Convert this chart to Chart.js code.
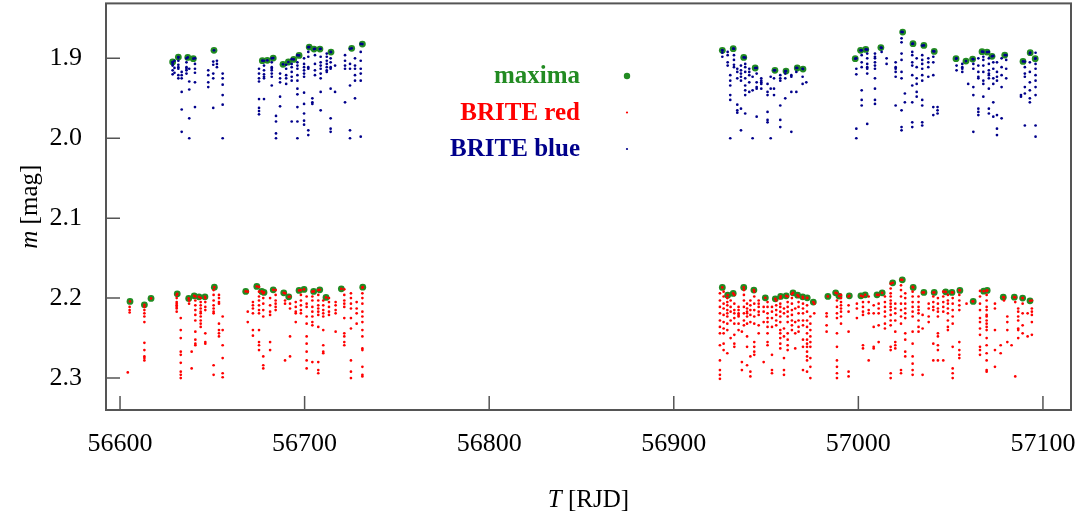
<!DOCTYPE html>
<html>
<head>
<meta charset="utf-8">
<script src="https://cdn.jsdelivr.net/npm/chart.js@4/dist/chart.umd.min.js"></script>
<style>
  html, body { margin: 0; padding: 0; background: #fff; }
  #wrap { position: relative; width: 1088px; height: 523px; }
</style>
</head>
<body>
<div id="wrap"><canvas id="c"></canvas></div>
<script>
// ---- tick labels ----
const xTicks = [56600, 56700, 56800, 56900, 57000, 57100];
const yTicks = [1.9, 2.0, 2.1, 2.2, 2.3];

// ---- BRITE blue light curve: columns [T, m1, m2, ...] ----
const blueSeason1 = [
  [56628.5, 1.905, 1.907, 1.909, 1.915, 1.920],
  [56629.5, 1.903, 1.912, 1.918],
  [56631.6, 1.899, 1.903, 1.908, 1.911, 1.913, 1.921, 1.925],
  [56633.4, 1.917, 1.921, 1.925, 1.942, 1.964, 1.992],
  [56636.0, 1.900, 1.905, 1.911, 1.913, 1.915, 1.919],
  [56637.5, 1.913, 1.929, 1.939, 1.975, 2.000],
  [56640.6, 1.900, 1.907, 1.913, 1.918, 1.930, 1.961],
  [56647.8, 1.915, 1.921, 1.930, 1.936],
  [56650.5, 1.904, 1.908, 1.919, 1.925, 1.962],
  [56652.5, 1.903, 1.907, 1.911],
  [56655.6, 1.919, 1.925, 1.933, 1.946, 1.958, 2.000],
  [56675.3, 1.913, 1.919, 1.925, 1.929, 1.951, 1.962, 1.966, 1.970],
  [56678.0, 1.903, 1.909, 1.915, 1.920, 1.923, 1.925, 1.951],
  [56682.2, 1.900, 1.905, 1.911, 1.913, 1.915, 1.919, 1.923, 1.934],
  [56684.5, 1.972, 1.979, 1.994, 2.000],
  [56686.7, 1.919, 1.925, 1.930, 1.948, 1.960],
  [56690.0, 1.908, 1.913, 1.921, 1.925, 1.932],
  [56693.0, 1.901, 1.907, 1.911, 1.917, 1.923, 1.928, 1.979],
  [56696.1, 1.896, 1.905, 1.909, 1.913, 1.921, 1.928, 1.938, 1.945, 1.961, 1.979, 2.000],
  [56699.7, 1.900, 1.907, 1.911, 1.915, 1.919, 1.923, 1.943, 1.957, 1.969, 1.978, 1.983],
  [56702.0, 1.886, 1.892, 1.898, 1.911, 1.913, 1.990, 1.996],
  [56704.2, 1.950, 1.955, 1.957],
  [56705.6, 1.888, 1.896, 1.907, 1.915, 1.921],
  [56708.7, 1.888, 1.898, 1.905, 1.909, 1.913, 1.919, 1.925, 1.942, 1.965],
  [56712.0, 1.894, 1.898, 1.903, 1.907, 1.911, 1.915, 1.917],
  [56714.1, 1.892, 1.900, 1.905, 1.911, 1.913, 1.938, 1.975, 1.988, 1.992],
  [56716.5, 1.909, 1.942],
  [56721.9, 1.896, 1.903, 1.909, 1.913, 1.955],
  [56724.6, 1.888, 1.907, 1.913, 1.934, 1.990, 2.000],
  [56727.3, 1.900, 1.909, 1.913, 1.921, 1.928, 1.950],
  [56730.4, 1.882, 1.892, 1.903, 1.913, 1.919, 1.928, 1.998]
];
const blueSeason2 = [
  [56926.3, 1.890, 1.893, 1.898],
  [56929.2, 1.892, 1.896, 1.905, 1.909],
  [56930.6, 1.921, 1.928, 1.934, 1.946, 1.952, 2.000],
  [56932.6, 1.888, 1.896, 1.902, 1.908, 1.911],
  [56934.4, 1.913, 1.917, 1.925, 1.958, 1.965, 1.968],
  [56936.4, 1.909, 1.915, 1.919, 1.923, 1.928, 1.963, 1.990],
  [56938.7, 1.899, 1.907, 1.911, 1.917, 1.925, 1.934, 1.940, 1.946, 1.969],
  [56940.9, 1.913, 1.917, 1.921, 1.930, 1.942],
  [56942.7, 1.923, 1.940, 2.000],
  [56944.9, 1.912, 1.919, 1.930, 1.936, 1.938, 1.973],
  [56947.4, 1.925, 1.928, 1.930, 1.932, 1.938],
  [56950.8, 1.932, 1.942, 1.946, 1.967, 1.977, 1.980],
  [56952.5, 1.923, 1.938, 2.000],
  [56954.3, 1.915, 1.925, 1.938, 1.946],
  [56957.7, 1.921, 1.925, 1.928, 1.959, 1.977, 1.986],
  [56960.4, 1.916, 1.919, 1.925, 1.950],
  [56963.7, 1.921, 1.923, 1.942, 1.992],
  [56966.4, 1.912, 1.917, 1.942],
  [56969.8, 1.913, 1.923, 1.932],
  [56971.8, 1.930],
  [56998.9, 1.900, 1.913, 1.920, 1.988, 2.000],
  [57001.8, 1.890, 1.896, 1.905, 1.911, 1.940, 1.952, 1.959],
  [57004.8, 1.889, 1.894, 1.900, 1.907, 1.911, 1.913, 1.919, 1.982],
  [57009.0, 1.894, 1.898, 1.900, 1.905, 1.909, 1.913, 1.925, 1.938, 1.952, 1.957],
  [57012.6, 1.887, 1.892],
  [57015.3, 1.900, 1.907],
  [57020.2, 1.905, 1.911, 1.913, 1.917, 1.923, 1.959],
  [57023.4, 1.867, 1.875, 1.880, 1.894, 1.902, 1.917, 1.925, 1.965, 1.986, 1.990],
  [57025.2, 1.944, 1.955],
  [57029.2, 1.882, 1.892, 1.896, 1.905, 1.909, 1.921, 1.934, 1.955, 1.980, 1.986],
  [57031.6, 1.900, 1.911, 1.925, 1.932, 1.942, 1.948],
  [57034.6, 1.884, 1.896, 1.902, 1.907, 1.913, 1.921, 1.928, 1.952, 1.959, 1.980, 1.984],
  [57037.9, 1.900, 1.905, 1.911, 1.923],
  [57040.6, 1.891, 1.898, 1.905, 1.921, 1.961, 1.971],
  [57042.9, 1.961, 1.965, 1.969],
  [57053.2, 1.900, 1.909, 1.915],
  [57056.3, 1.907, 1.911, 1.913, 1.917],
  [57059.5, 1.932],
  [57062.3, 1.901, 1.907, 1.913, 1.936, 1.946, 1.992],
  [57065.0, 1.900, 1.909, 1.917, 1.923, 1.925, 1.963, 1.967, 1.971],
  [57067.7, 1.892, 1.898, 1.902, 1.909, 1.917, 1.928, 1.932, 1.948],
  [57070.7, 1.892, 1.900, 1.907, 1.915, 1.919, 1.921, 1.925, 1.938, 1.963, 1.969],
  [57073.1, 1.897, 1.905, 1.913, 1.925, 1.932, 1.955, 1.973],
  [57075.1, 1.905, 1.917, 1.923, 1.928, 1.971, 1.988, 1.996],
  [57077.6, 1.900, 1.911, 1.921, 1.936, 1.975],
  [57080.1, 1.896, 1.902, 1.913, 1.925],
  [57088.1, 1.946, 1.948],
  [57090.2, 1.904, 1.911, 1.919, 1.923, 1.936, 1.944, 1.984],
  [57092.9, 1.894, 1.905, 1.917, 1.930, 1.940, 1.950, 1.955],
  [57096.0, 1.893, 1.900, 1.907, 1.913, 1.921, 1.928, 1.936, 1.946, 1.984, 1.998]
];

// ---- BRITE red light curve: columns [T, m1, m2, ...] ----
const redSeason1 = [
  [56604.2, 2.293],
  [56605.2, 2.211, 2.215, 2.218],
  [56613.2, 2.211, 2.215, 2.219, 2.223, 2.230, 2.256, 2.265, 2.273, 2.275, 2.278],
  [56630.7, 2.196, 2.200, 2.205, 2.207, 2.209, 2.211, 2.213, 2.217],
  [56632.9, 2.225, 2.240, 2.250, 2.267, 2.271, 2.281, 2.292, 2.296, 2.300],
  [56637.4, 2.203, 2.207],
  [56638.8, 2.267, 2.288],
  [56640.8, 2.198, 2.203, 2.209, 2.215, 2.221, 2.228, 2.242, 2.252, 2.257, 2.259],
  [56643.7, 2.200, 2.205, 2.209, 2.213, 2.217, 2.219, 2.223, 2.228, 2.232, 2.236],
  [56646.2, 2.200, 2.205, 2.211, 2.215, 2.244, 2.255, 2.257],
  [56650.7, 2.190, 2.196, 2.203, 2.209, 2.213, 2.217, 2.219, 2.284, 2.296],
  [56653.6, 2.196, 2.200, 2.205, 2.207, 2.232, 2.240, 2.244, 2.248],
  [56655.6, 2.223, 2.240, 2.259, 2.275, 2.294, 2.299],
  [56669.2, 2.192, 2.217, 2.230],
  [56672.0, 2.205, 2.209, 2.213, 2.219, 2.240, 2.247],
  [56675.3, 2.186, 2.192, 2.198, 2.203, 2.209, 2.215, 2.219, 2.240, 2.255, 2.259, 2.265],
  [56677.6, 2.194, 2.200, 2.207, 2.215, 2.223, 2.273, 2.284, 2.288],
  [56681.3, 2.200, 2.209, 2.217, 2.221, 2.255, 2.265],
  [56684.3, 2.190, 2.196, 2.203, 2.207, 2.211, 2.215],
  [56689.4, 2.194, 2.203, 2.207, 2.278],
  [56692.1, 2.198, 2.207, 2.213, 2.248, 2.273],
  [56695.2, 2.205, 2.211, 2.217, 2.219, 2.230],
  [56698.0, 2.190, 2.196, 2.203, 2.209, 2.215, 2.219],
  [56701.1, 2.198, 2.207, 2.211, 2.223, 2.232, 2.248, 2.257, 2.267, 2.278, 2.288],
  [56704.2, 2.192, 2.198, 2.203, 2.211, 2.217, 2.223, 2.230, 2.234, 2.280],
  [56707.4, 2.190, 2.196, 2.203, 2.209, 2.213, 2.217, 2.221, 2.236, 2.280, 2.290, 2.294],
  [56710.1, 2.203, 2.209, 2.215, 2.219, 2.223, 2.240, 2.259, 2.267, 2.269],
  [56713.2, 2.200, 2.205, 2.211, 2.217, 2.221],
  [56716.8, 2.205, 2.209, 2.215, 2.219, 2.242],
  [56721.5, 2.189, 2.196, 2.203, 2.207, 2.211, 2.225, 2.244, 2.248, 2.255, 2.259],
  [56725.1, 2.194, 2.200, 2.207, 2.213, 2.225, 2.238, 2.278, 2.292, 2.300],
  [56728.2, 2.205, 2.213, 2.219, 2.232],
  [56731.3, 2.187, 2.194, 2.200, 2.207, 2.217, 2.223, 2.230, 2.240, 2.248, 2.263, 2.265, 2.286, 2.296, 2.298]
];
const redSeason2 = [
  [56925.0, 2.194, 2.203, 2.211, 2.219, 2.228, 2.236, 2.244, 2.259, 2.278, 2.290, 2.296, 2.301],
  [56927.0, 2.192, 2.198, 2.207, 2.213, 2.221, 2.230, 2.238, 2.244, 2.257, 2.265],
  [56929.0, 2.200, 2.205, 2.209, 2.215, 2.219, 2.223, 2.232, 2.240, 2.269],
  [56930.8, 2.203, 2.211, 2.217, 2.228, 2.250],
  [56932.8, 2.196, 2.207, 2.215, 2.219, 2.225, 2.232, 2.246, 2.257, 2.261],
  [56935.1, 2.211, 2.215, 2.219, 2.221, 2.223, 2.232, 2.240],
  [56936.9, 2.242, 2.280, 2.290],
  [56938.0, 2.190, 2.196, 2.203, 2.211, 2.219, 2.228, 2.234],
  [56939.7, 2.207, 2.213, 2.217, 2.219, 2.223, 2.232, 2.248, 2.261, 2.284],
  [56941.5, 2.203, 2.209, 2.215, 2.221, 2.230, 2.273, 2.292, 2.298],
  [56943.6, 2.192, 2.198, 2.207, 2.215, 2.223, 2.232, 2.255, 2.261, 2.267, 2.271],
  [56946.0, 2.203, 2.207, 2.211, 2.217, 2.221, 2.234, 2.244],
  [56948.7, 2.211, 2.217, 2.230, 2.280],
  [56950.8, 2.205, 2.211, 2.219, 2.225, 2.230, 2.236, 2.244, 2.255, 2.259],
  [56953.2, 2.211, 2.217, 2.225, 2.236, 2.271, 2.290, 2.294],
  [56955.5, 2.203, 2.209, 2.215, 2.221, 2.228, 2.234],
  [56957.7, 2.200, 2.207, 2.211, 2.217, 2.223, 2.230, 2.240, 2.244, 2.250, 2.257, 2.263],
  [56959.7, 2.213, 2.219, 2.238, 2.248, 2.275, 2.290, 2.296],
  [56961.7, 2.198, 2.205, 2.211, 2.217, 2.223, 2.230, 2.244, 2.252, 2.259, 2.265],
  [56964.0, 2.195, 2.200, 2.207, 2.215, 2.221, 2.228, 2.234, 2.240],
  [56965.8, 2.213, 2.230, 2.244, 2.263],
  [56967.6, 2.198, 2.205, 2.211, 2.219, 2.228, 2.236, 2.242],
  [56970.0, 2.200, 2.207, 2.213, 2.219, 2.228, 2.234, 2.252, 2.261, 2.290],
  [56972.2, 2.200, 2.209, 2.217, 2.228, 2.236, 2.244, 2.252, 2.257, 2.261, 2.267, 2.273, 2.278, 2.292],
  [56974.0, 2.223, 2.232, 2.240, 2.248, 2.255, 2.261, 2.275, 2.286, 2.300],
  [56976.1, 2.207, 2.219],
  [56982.8, 2.219, 2.223, 2.234, 2.242],
  [56988.4, 2.194, 2.203, 2.211, 2.219, 2.225, 2.244, 2.261, 2.278, 2.286, 2.294, 2.300],
  [56990.6, 2.196, 2.200, 2.205, 2.209, 2.213, 2.217, 2.223, 2.232],
  [56994.7, 2.198, 2.209, 2.217, 2.242, 2.292, 2.298],
  [56999.2, 2.207, 2.213, 2.225],
  [57002.5, 2.198, 2.205, 2.211, 2.217, 2.221, 2.259, 2.263],
  [57005.6, 2.198, 2.205, 2.215, 2.219, 2.278],
  [57008.3, 2.209, 2.219, 2.236, 2.261, 2.263],
  [57011.0, 2.196, 2.207, 2.213, 2.219, 2.234, 2.255],
  [57014.4, 2.198, 2.205, 2.211, 2.217, 2.223, 2.232, 2.238],
  [57017.5, 2.182, 2.188, 2.194, 2.198, 2.203, 2.207, 2.211, 2.215, 2.221, 2.228, 2.234, 2.261, 2.265, 2.294, 2.300],
  [57020.0, 2.207, 2.213, 2.219, 2.228, 2.242, 2.255, 2.259, 2.263],
  [57023.1, 2.177, 2.184, 2.190, 2.198, 2.207, 2.215, 2.223, 2.232, 2.290, 2.294],
  [57025.4, 2.194, 2.200, 2.207, 2.213, 2.219, 2.225, 2.244, 2.252, 2.267, 2.273],
  [57029.4, 2.186, 2.192, 2.198, 2.205, 2.211, 2.217, 2.223, 2.242, 2.257, 2.273, 2.282, 2.290, 2.296],
  [57032.6, 2.198, 2.205, 2.211, 2.215, 2.219, 2.228, 2.236, 2.242],
  [57034.8, 2.193, 2.221, 2.238, 2.296],
  [57038.1, 2.207, 2.213, 2.223, 2.230],
  [57040.6, 2.193, 2.198, 2.205, 2.211, 2.215, 2.257, 2.278],
  [57043.1, 2.200, 2.207, 2.213, 2.217, 2.223, 2.244, 2.248, 2.259, 2.265, 2.278],
  [57046.0, 2.192, 2.198, 2.205, 2.211, 2.217, 2.278],
  [57048.5, 2.196, 2.203, 2.207, 2.213, 2.219, 2.228, 2.236, 2.240],
  [57051.1, 2.193, 2.200, 2.207, 2.215, 2.223, 2.232, 2.261, 2.288, 2.294, 2.300],
  [57054.7, 2.190, 2.196, 2.203, 2.209, 2.215, 2.255, 2.265, 2.271, 2.275],
  [57058.6, 2.207],
  [57061.9, 2.204],
  [57065.9, 2.191, 2.198, 2.207, 2.215, 2.225, 2.230, 2.238, 2.246, 2.261, 2.265, 2.271],
  [57069.5, 2.191, 2.196, 2.203, 2.211, 2.215, 2.221, 2.223, 2.228, 2.232, 2.236, 2.240, 2.250, 2.259, 2.269, 2.278, 2.290, 2.292],
  [57074.0, 2.207, 2.213, 2.240, 2.265, 2.286],
  [57077.1, 2.259, 2.269],
  [57078.9, 2.199, 2.203],
  [57080.7, 2.223, 2.230, 2.240, 2.255],
  [57083.0, 2.259],
  [57085.0, 2.199, 2.205, 2.298],
  [57086.6, 2.213, 2.217, 2.223, 2.228, 2.238, 2.240, 2.250],
  [57089.0, 2.200, 2.207, 2.219, 2.234, 2.244],
  [57091.7, 2.219, 2.248],
  [57094.0, 2.203, 2.213, 2.217, 2.221, 2.230, 2.246]
];

// ---- maxima: [T, m] ----
const maximaBlue = [
  [56628.5, 1.9046], [56631.6, 1.8984], [56636.7, 1.8988], [56639.7, 1.9004], [56650.9, 1.8900],
  [56677.1, 1.9029], [56679.8, 1.9025], [56683.0, 1.8996], [56688.3, 1.9075], [56691.2, 1.9046],
  [56694.1, 1.9013], [56697.0, 1.8963], [56702.5, 1.8859], [56705.1, 1.8884], [56708.3, 1.8884],
  [56714.3, 1.8921], [56725.5, 1.8875], [56731.3, 1.8821],
  [56926.3, 1.8900], [56932.2, 1.8879], [56937.9, 1.8988], [56944.1, 1.9121], [56954.8, 1.9150],
  [56960.8, 1.9159], [56966.9, 1.9121], [56970.0, 1.9134],
  [56998.3, 1.9004], [57001.2, 1.8900], [57004.0, 1.8888], [57012.2, 1.8865], [57024.0, 1.8671],
  [57029.6, 1.8816], [57035.5, 1.8838], [57041.1, 1.8913], [57052.9, 1.9004], [57058.3, 1.9034],
  [57061.9, 1.9009], [57067.0, 1.8916], [57069.7, 1.8921], [57072.4, 1.8975], [57079.3, 1.8959],
  [57089.2, 1.9038], [57093.1, 1.8929], [57095.8, 1.9004]
];
const maximaRed = [
  [56605.4, 2.2041], [56613.2, 2.2084], [56616.8, 2.2004], [56631.0, 2.1946], [56637.2, 2.2004],
  [56640.2, 2.1971], [56642.8, 2.1984], [56646.0, 2.1984], [56651.1, 2.1863], [56668.1, 2.1916],
  [56674.1, 2.1854], [56676.8, 2.1916], [56678.0, 2.1929], [56683.0, 2.1896], [56688.7, 2.1934],
  [56691.4, 2.1984], [56697.0, 2.1904], [56699.7, 2.1891], [56704.9, 2.1916], [56708.2, 2.1896],
  [56711.6, 2.1991], [56719.9, 2.1884], [56731.5, 2.1863],
  [56926.3, 2.1866], [56929.2, 2.1963], [56932.2, 2.1941], [56937.9, 2.1866], [56943.4, 2.1900],
  [56949.6, 2.1996], [56955.0, 2.2009], [56957.9, 2.1979], [56960.9, 2.1971], [56964.6, 2.1934],
  [56967.1, 2.1963], [56969.8, 2.1984], [56972.3, 2.1996], [56975.6, 2.2050], [56983.5, 2.1979],
  [56987.7, 2.1934], [56989.5, 2.1975], [56995.1, 2.1971], [57001.4, 2.1971], [57003.7, 2.1959],
  [57010.1, 2.1959], [57012.9, 2.1934], [57018.6, 2.1809], [57023.8, 2.1771], [57029.7, 2.1866],
  [57035.5, 2.1929], [57041.1, 2.1929], [57047.3, 2.1921], [57050.7, 2.1929], [57055.0, 2.1904],
  [57062.2, 2.2041], [57067.9, 2.1913], [57069.8, 2.1904], [57078.5, 2.1988], [57084.5, 2.1988],
  [57089.0, 2.2000], [57093.0, 2.2034]
];

// ---- build datasets ----
const fromColumns = cols => cols.flatMap(([t, ...ms]) => ms.map(m => ({ x: t, y: m })));
const fromPairs = pairs => pairs.map(([t, m]) => ({ x: t, y: m }));

const blueData = fromColumns(blueSeason1).concat(fromColumns(blueSeason2), fromPairs(maximaBlue));
const redData = fromColumns(redSeason1).concat(fromColumns(redSeason2), fromPairs(maximaRed));
const maxData = fromPairs(maximaBlue).concat(fromPairs(maximaRed));

const COL_BLUE = '#00008b', COL_RED = '#ff0000', COL_GREEN = '#228b22';
const SERIF = '"Liberation Serif", "DejaVu Serif", serif';

const legendItems = [
  { text: 'maxima', color: COL_GREEN, r: 3.2 },
  { text: 'BRITE red', color: COL_RED, r: 1.1 },
  { text: 'BRITE blue', color: COL_BLUE, r: 1.1 }
];

const decor = {
  id: 'decor',
  afterDraw(chart) {
    const { ctx, chartArea: a, scales: { x, y } } = chart;
    ctx.save();
    // inward tick marks
    ctx.strokeStyle = '#555';
    ctx.lineWidth = 1.5;
    ctx.beginPath();
    yTicks.forEach(v => {
      const p = y.getPixelForValue(v);
      ctx.moveTo(a.left, p); ctx.lineTo(a.left + 14, p);
    });
    xTicks.forEach(v => {
      const p = x.getPixelForValue(v);
      ctx.moveTo(p, a.bottom); ctx.lineTo(p, a.bottom - 14);
    });
    ctx.stroke();
    // frame
    ctx.lineWidth = 2;
    ctx.strokeStyle = '#555';
    ctx.strokeRect(a.left, a.top, a.right - a.left, a.bottom - a.top);

    // axis titles (italic symbol + upright unit)
    ctx.fillStyle = '#000';
    ctx.textBaseline = 'middle';
    ctx.textAlign = 'left';
    const drawTitle = (sym, unit, cx, cy, rot) => {
      ctx.save();
      ctx.translate(cx, cy);
      if (rot) ctx.rotate(-Math.PI / 2);
      ctx.font = 'italic 25px ' + SERIF;
      const w1 = ctx.measureText(sym).width;
      ctx.font = '25px ' + SERIF;
      const w2 = ctx.measureText(unit).width;
      let sx = -(w1 + w2) / 2;
      ctx.font = 'italic 25px ' + SERIF;
      ctx.fillText(sym, sx, 0);
      ctx.font = '25px ' + SERIF;
      ctx.fillText(unit, sx + w1, 0);
      ctx.restore();
    };
    drawTitle('T', ' [RJD]', (a.left + a.right) / 2, 500, false);
    drawTitle('m', ' [mag]', 30, (a.top + a.bottom) / 2, true);

    // legend
    ctx.font = 'bold 25px ' + SERIF;
    ctx.textAlign = 'right';
    legendItems.forEach((it, i) => {
      const cy = 76 + i * 36.5;
      ctx.fillStyle = it.color;
      ctx.fillText(it.text, 580, cy + 1);
      ctx.beginPath();
      ctx.arc(627, cy, it.r, 0, Math.PI * 2);
      ctx.fill();
    });
    ctx.restore();
  }
};

new Chart(document.getElementById('c'), {
  type: 'scatter',
  data: {
    datasets: [
      { label: 'BRITE blue', data: blueData, backgroundColor: COL_BLUE, borderWidth: 0, pointRadius: 1.35, pointHoverRadius: 1.35 },
      { label: 'BRITE red', data: redData, backgroundColor: COL_RED, borderWidth: 0, pointRadius: 1.35, pointHoverRadius: 1.35 },
      { label: 'maxima', data: maxData, backgroundColor: COL_GREEN, borderWidth: 0, pointRadius: 3.4, pointHoverRadius: 3.4 }
    ]
  },
  options: {
    responsive: true,
    maintainAspectRatio: false,
    animation: false,
    events: [],
    layout: { padding: { top: 3, right: 17, left: 0, bottom: 0 } },
    plugins: { legend: { display: false }, tooltip: { enabled: false } },
    scales: {
      x: {
        type: 'linear',
        min: 56592.4,
        max: 57115.2,
        afterBuildTicks: s => { s.ticks = xTicks.map(v => ({ value: v })); },
        afterFit: s => { s.height = 113; s.paddingLeft = 0; s.paddingRight = 0; s.paddingTop = 0; s.paddingBottom = 0; },
        grid: { display: false, drawTicks: false },
        border: { display: false },
        ticks: { color: '#000', font: { family: SERIF, size: 26 }, padding: 19, maxRotation: 0, callback: v => String(v) }
      },
      y: {
        type: 'linear',
        reverse: true,
        min: 1.83125,
        max: 2.34,
        afterBuildTicks: s => { s.ticks = yTicks.map(v => ({ value: v })); },
        afterFit: s => { s.width = 106; s.paddingTop = 0; s.paddingBottom = 0; s.paddingLeft = 0; s.paddingRight = 0; },
        grid: { display: false, drawTicks: false },
        border: { display: false },
        ticks: { color: '#000', font: { family: SERIF, size: 26 }, padding: 24, callback: v => v.toFixed(1) }
      }
    }
  },
  plugins: [decor]
});
</script>
</body>
</html>
